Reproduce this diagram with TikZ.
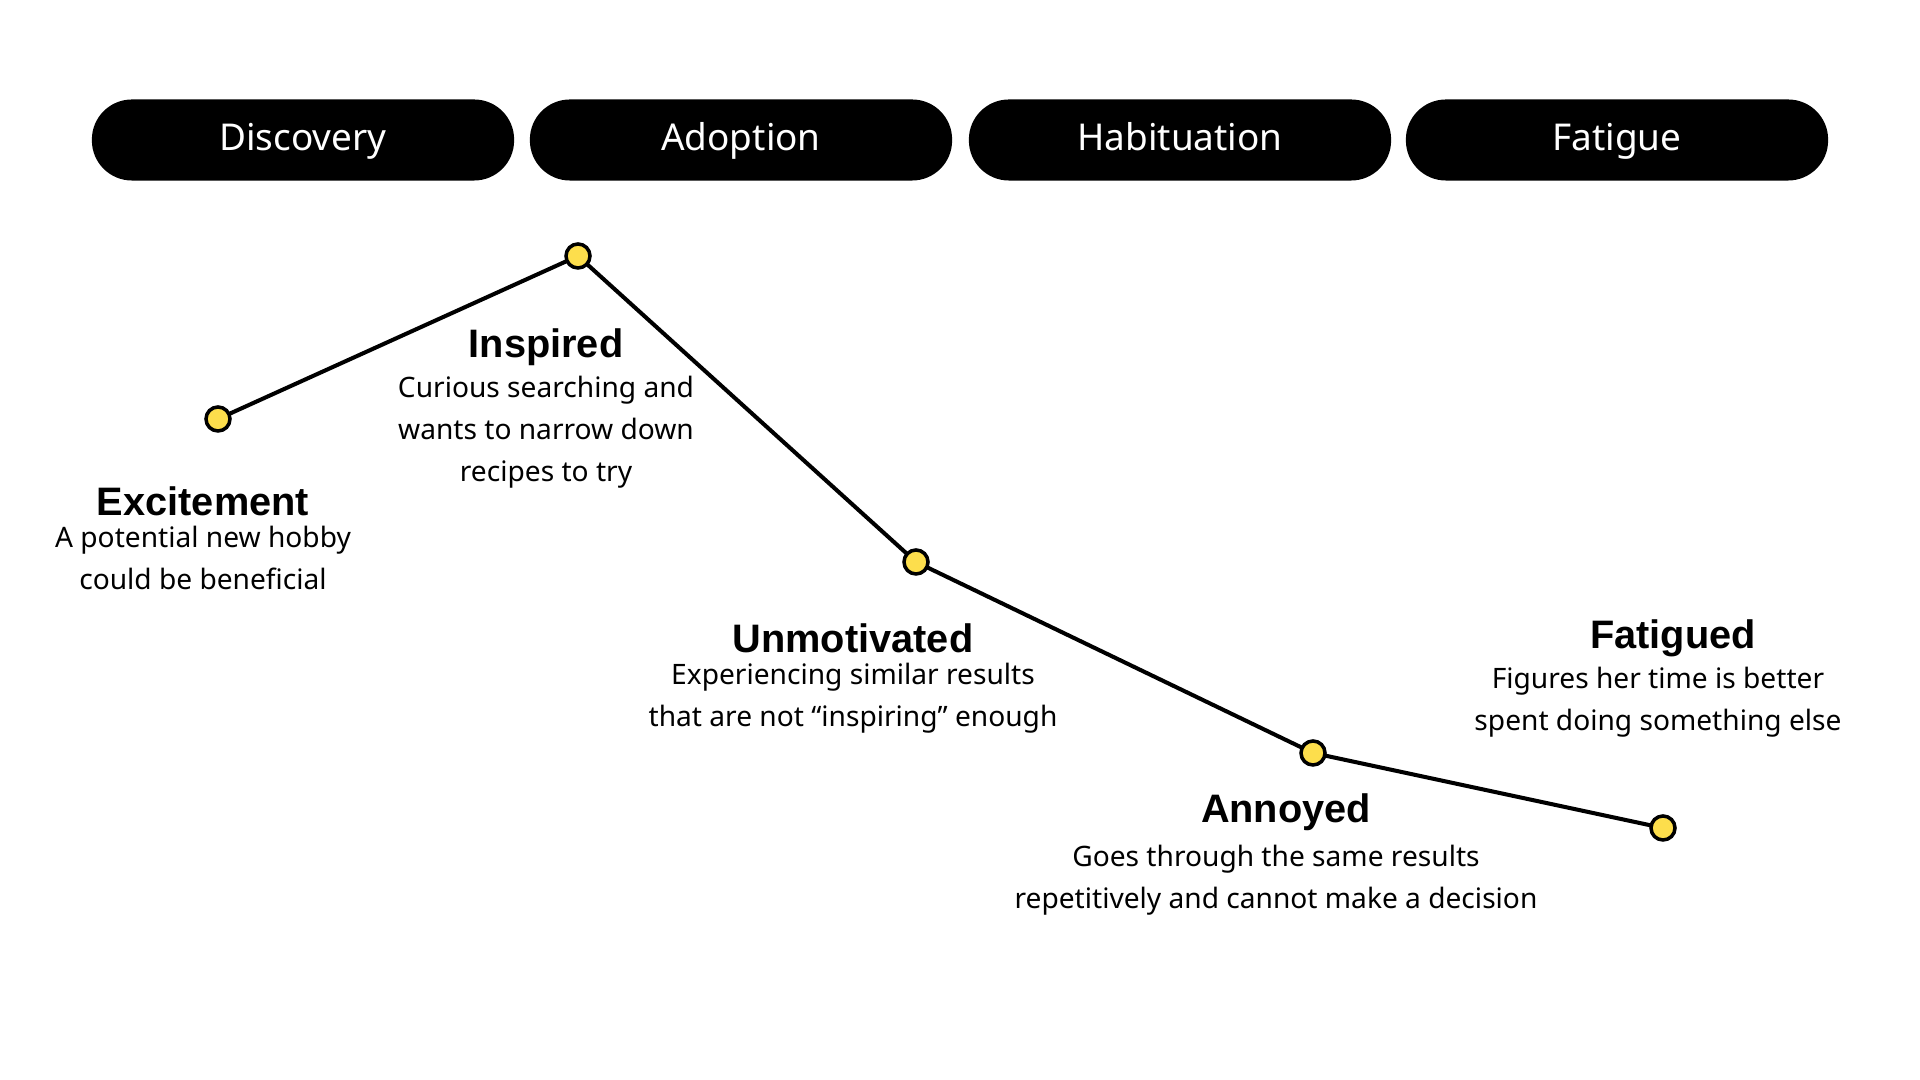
\documentclass[tikz,border=0pt]{standalone}
\usepackage{fontspec}
\setmainfont{Noto Sans}
\newfontfamily\moodfont{Liberation Sans}
\usetikzlibrary{positioning}
\tikzset{
  phase/.style={fill=black, text=white, rounded corners=0.4cm, minimum width=4.22cm, minimum height=0.81cm, inner sep=0pt, text height=1.55ex, text depth=0.45ex, font=\fontsize{10.5}{12}\selectfont},
  dot/.style={circle, draw=black, line width=1pt, fill=yellow!70!orange!70, minimum size=0.24cm, inner sep=0pt},
  mood/.style={font=\moodfont\fontsize{11.3}{13}\selectfont\bfseries},
  note/.style={align=center, font=\fontsize{8}{11.9}\selectfont}
}
\begin{document}
\begin{tikzpicture}[x=0.01cm, y=-0.01cm]
\useasboundingbox (0,0) rectangle (1920,1080);

% Phases
\node[phase] (discovery) at (303,140) {Discovery};
\node[phase] (adoption) at (741,140) {Adoption};
\node[phase] (habituation) at (1180,140) {Habituation};
\node[phase] (fatigue) at (1617,140) {Fatigue};

% Curve
\coordinate (p1) at (218,419);
\coordinate (p2) at (578,256);
\coordinate (p3) at (916,562);
\coordinate (p4) at (1313,753);
\coordinate (p5) at (1663,828);
\draw[line width=1.15pt] (p1) -- (p2) -- (p3) -- (p4) -- (p5);
\foreach \p in {p1,p2,p3,p4,p5}
  \node[dot] at (\p) {};

% Labels
\node[mood] (excitement) at (203,501) {Excitement};
\node[note, below=-4pt of excitement] {A potential new hobby\\could be beneficial};

\node[mood] (inspired) at (546,347) {Inspired};
\node[note, below=-4pt of inspired] {Curious searching and\\wants to narrow down\\recipes to try};

\node[mood] (unmotivated) at (853,638) {Unmotivated};
\node[note, below=-4pt of unmotivated] {Experiencing similar results\\that are not “inspiring” enough};

\node[mood] (annoyed) at (1286,812) {Annoyed};
\node[note, below=-3pt of annoyed, xshift=-0.1cm] {Goes through the same results\\repetitively and cannot make a decision};

\node[mood] (fatigued) at (1673,638) {Fatigued};
\node[note, below=-4pt of fatigued, xshift=-0.15cm] {Figures her time is better\\spent doing something else};
\end{tikzpicture}
\end{document}
